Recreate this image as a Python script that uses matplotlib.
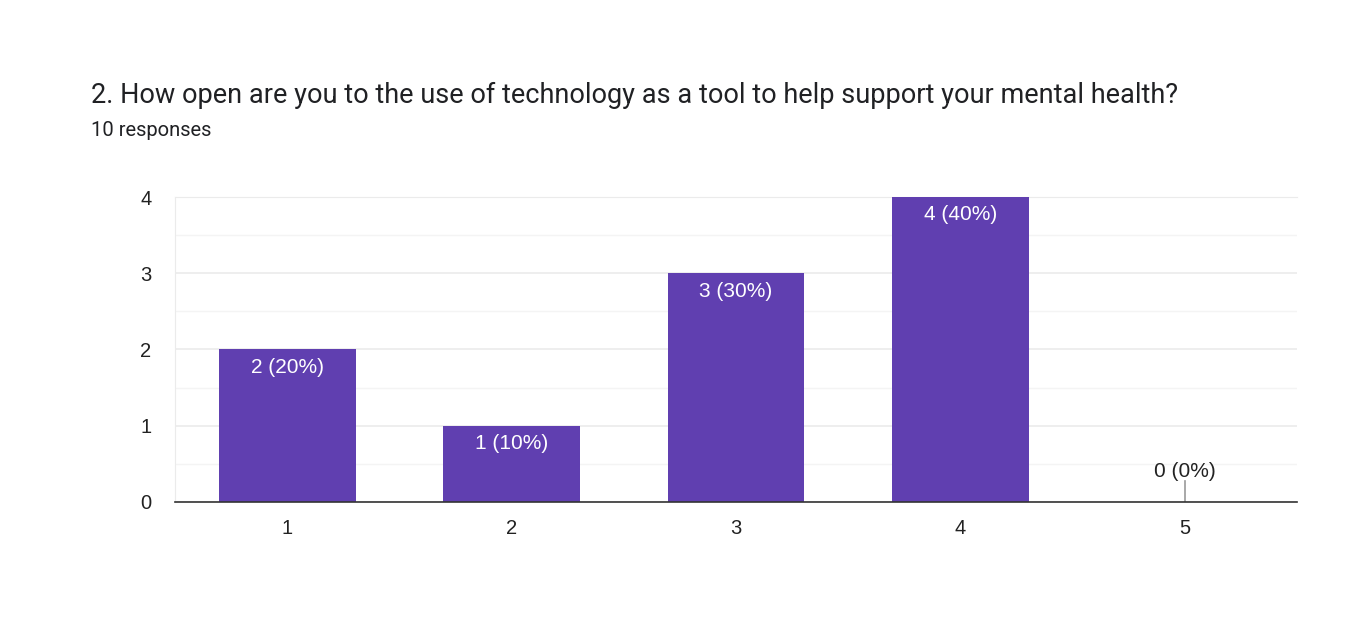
import numpy as np
import matplotlib as mpl

mpl.use('Agg')
import matplotlib.pyplot as plt

plt.rcParams['font.family'] = ['Liberation Sans', 'DejaVu Sans']

# Data
categories = ['1', '2', '3', '4', '5']
counts = [2, 1, 3, 4, 0]
total = 10

fig = plt.figure(figsize=(13.66, 6.38), dpi=100)
ax = fig.add_axes([0.1281, 0.2132, 0.8214, 0.478])

x = np.arange(len(categories))
ax.bar(x, counts, width=0.61, color='#603fb0', zorder=3)

# labels inside bars
for xi, c in zip(x, counts):
    label = '%d (%d%%)' % (c, round(100 * c / total))
    if c > 0:
        ax.annotate(label, (xi, c), xytext=(0, -6), textcoords='offset points',
                    ha='center', va='top', color='white', fontsize=15, zorder=4)
    else:
        ax.plot([xi, xi], [0, 0.28], color='#999999', lw=1.2, zorder=4)
        ax.annotate(label, (xi, 0.28), xytext=(0, 0), textcoords='offset points',
                    ha='center', va='bottom', color='#222222', fontsize=15, zorder=4)

ax.set_xlim(-0.5, 4.5)
ax.set_ylim(0, 4)
ax.set_xticks(x)
ax.set_xticklabels(categories)
ax.set_yticks([0, 1, 2, 3, 4])
ax.set_yticks([0.5, 1.5, 2.5, 3.5], minor=True)
ax.grid(axis='y', which='major', color='#ebebeb', lw=1.2, zorder=0)
ax.grid(axis='y', which='minor', color='#f4f4f4', lw=1.0, zorder=0)
ax.tick_params(axis='both', which='both', length=0, labelsize=14.5, colors='#222222')
ax.tick_params(axis='x', pad=12)
ax.tick_params(axis='y', pad=17)

for s in ['left', 'top', 'right']:
    ax.spines[s].set_color('#ebebeb')
ax.spines['right'].set_visible(False)
ax.spines['bottom'].set_color('#333333')
ax.spines['bottom'].set_linewidth(1.2)
ax.spines['bottom'].set_zorder(5)

fig.text(91 / 1366, 1 - 95 / 638, '2. How open are you to the use of technology as a tool to help support your mental health?',
         fontsize=19.5, color='#202124', va='center', ha='left', family=['Roboto', 'DejaVu Sans'])
fig.text(91 / 1366, 1 - 130 / 638, '10 responses', fontsize=14.5, color='#202124', va='center', ha='left',
         family=['Roboto', 'DejaVu Sans'])

plt.savefig('out.png', dpi=100)
